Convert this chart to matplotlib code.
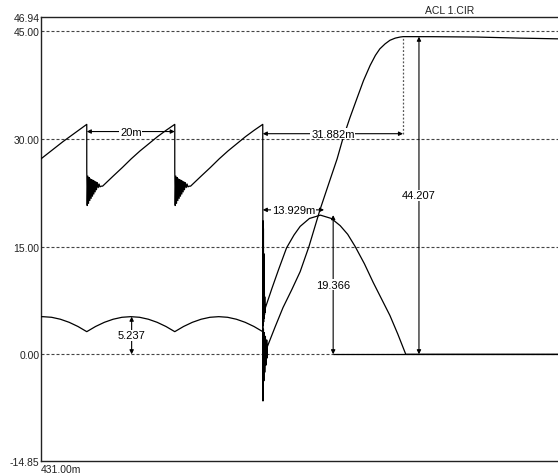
import numpy as np
import matplotlib.pyplot as plt

plt.rcParams['font.family'] = ['Liberation Sans', 'DejaVu Sans']

# axis ranges (time in ms)
t_start, t_end = 431.0, 548.5
y_min, y_max = -14.85, 46.94
y_ticks = [46.94, 45.00, 30.00, 15.00, 0.00, -14.85]
grid_levels = [45.0, 30.0, 15.0, 0.0]

# upper trace: sawtooth, switching instants
t_drops = [441.4, 461.4, 481.4]
ramp0_t = [431.0, 436.0, 441.4]
ramp0_v = [27.2, 29.6, 32.0]
# ringing after a switching, offsets from the switching instant
ring_dt = [0.0, 0.0, 0.1, 0.25, 0.4, 0.55, 0.7, 0.85, 1.0, 1.15, 1.3, 1.45,
           1.6, 1.75, 1.9, 2.05, 2.2, 2.4, 2.6, 2.8, 3.0, 3.3]
ring_v = [32.0, 25.8, 20.7, 24.8, 21.0, 24.6, 21.4, 24.4, 21.7, 24.3, 22.0, 24.2,
          22.3, 24.1, 22.6, 24.0, 22.9, 23.9, 23.2, 23.7, 23.3, 23.4]
# recharge ramp up to the next switching
ramp_dt = [3.6, 6.0, 8.1, 10.1, 12.1, 14.1, 16.1, 18.1, 20.0]
ramp_v = [23.4, 24.8, 26.0, 27.2, 28.3, 29.3, 30.3, 31.2, 32.0]
# last switching: collapse to zero, then the rise
last_ring_dt = [0.0, 0.05, 0.15, 0.25, 0.35, 0.45, 0.6, 0.75, 0.9, 1.05]
last_ring_v = [31.7, -6.5, 3.5, -3.7, 3.0, -2.5, 2.5, -1.5, 2.0, -0.5]
rise_t = [482.4, 484.2, 486.0, 488.0, 489.9, 491.9, 494.4, 496.7, 498.3, 499.6,
          501.2, 502.8, 504.3, 505.8, 507.0, 508.0, 509.2, 510.3, 511.5,
          512.6, 513.3, 520.0, 530.0, 540.0, 548.5]
rise_v = [1.0, 3.8, 6.5, 9.0, 11.5, 15.0, 20.1, 24.3, 27.2, 30.0,
          32.9, 35.6, 38.1, 40.2, 41.6, 42.5, 43.2, 43.7, 44.0,
          44.15, 44.207, 44.2, 44.15, 44.0, 43.9]

# lower trace: rectified arcs, peaks between switchings
arc_peaks = [431.4, 451.4, 471.4]
arc_dt = [-10, -8, -6, -4, -2, 0, 2, 4, 6, 8, 10]
arc_v = [3.15, 3.87, 4.45, 4.88, 5.15, 5.237, 5.15, 4.88, 4.45, 3.87, 3.15]
spike_dt = [0.05, 0.1, 0.15, 0.2, 0.25, 0.3, 0.35, 0.4, 0.45, 0.5]
spike_v = [18.6, 4.0, 17.5, 4.5, 14.0, 5.0, 11.0, 5.5, 8.0, 5.8]
pulse_t = [481.9, 483.5, 485.0, 486.8, 488.5, 489.9, 492.0, 494.5, 497.0,
           499.0, 500.7, 502.4, 504.5, 506.5, 508.4, 510.3, 512.1, 513.9, 548.5]
pulse_v = [6.3, 9.2, 11.8, 14.8, 16.6, 17.8, 18.9, 19.366, 18.9,
           17.9, 16.7, 15.0, 12.6, 10.0, 7.7, 5.4, 2.8, 0.0, 0.0]

# cursor measurements
period_t = (441.4, 461.4)
period_y, period_label = 31.0, '20m'
rise_dt_t = (481.4, 513.282)
rise_dt_y, rise_dt_label = 30.7, '31.882m'
peak_dt_t = (481.4, 495.329)
peak_dt_y, peak_dt_label = 20.1, '13.929m'
arc_amp_t, arc_amp = 451.6, 5.237
pulse_amp_t, pulse_amp = 497.4, 19.366
final_t, final_amp = 516.9, 44.207

# build the upper trace
up_t = list(ramp0_t)
up_v = list(ramp0_v)
for td in t_drops[:2]:
    up_t += [td + d for d in ring_dt] + [td + d for d in ramp_dt]
    up_v += ring_v + ramp_v
up_t += [t_drops[2] + d for d in last_ring_dt] + rise_t
up_v += last_ring_v + rise_v

# build the lower trace
lo_t, lo_v = [], []
for tp in arc_peaks:
    lo_t += [tp + d for d in arc_dt]
    lo_v += arc_v
lo_t += [t_drops[2] + d for d in spike_dt] + pulse_t
lo_v += spike_v + pulse_v

fig = plt.figure(figsize=(5.58, 4.77), dpi=100)
ax = fig.add_axes([41 / 558, 15 / 477, 517 / 558, 444 / 477])
ax.set_xlim(t_start, t_end)
ax.set_ylim(y_min, y_max)

for lv in grid_levels:
    ax.axhline(lv, color='#444444', lw=0.8, ls=(0, (2.7, 1.8)), zorder=1)

ax.plot(up_t, up_v, color='black', lw=0.9, zorder=3)
ax.plot(lo_t, lo_v, color='black', lw=0.9, zorder=3)

# zero level cursor line
ax.hlines(0, pulse_amp_t, t_end, color='black', lw=0.9, zorder=2)
# projection of the end of the rise
ax.vlines(rise_dt_t[1], rise_dt_y, final_amp, color='#555555', lw=0.9,
          ls=(0, (1.5, 1.5)), zorder=2)

arrow = dict(arrowstyle='<|-|>', color='black', lw=0.8, mutation_scale=6,
             shrinkA=0, shrinkB=0)
box = dict(facecolor='white', edgecolor='none', pad=0.6)


def hcursor(t0, t1, y, label):
    ax.annotate('', xy=(t1, y), xytext=(t0, y), arrowprops=arrow, zorder=4)
    ax.text((t0 + t1) / 2, y, label, ha='center', va='center', fontsize=8,
            bbox=box, zorder=5)


def vcursor(t, v, label):
    ax.annotate('', xy=(t, v), xytext=(t, 0), arrowprops=arrow, zorder=4)
    ax.text(t, v / 2, label, ha='center', va='center', fontsize=8,
            bbox=box, zorder=5)


hcursor(*period_t, period_y, period_label)
hcursor(*rise_dt_t, rise_dt_y, rise_dt_label)
hcursor(*peak_dt_t, peak_dt_y, peak_dt_label)
vcursor(arc_amp_t, arc_amp, '5.237')
vcursor(pulse_amp_t, pulse_amp, '19.366')
vcursor(final_t, final_amp, '44.207')

ax.set_yticks(y_ticks)
ax.set_yticklabels(['%.2f' % v for v in y_ticks])
ax.set_xticks([t_start])
ax.set_xticklabels(['431.00m'], ha='left')
ax.tick_params(length=0, labelsize=7.5, colors='#222222')
ax.tick_params(axis='y', pad=1)
ax.tick_params(axis='x', pad=2)

for side in ['left', 'top', 'bottom']:
    ax.spines[side].set_color('#222222')
    ax.spines[side].set_linewidth(1.0)
ax.spines['right'].set_visible(False)

fig.text(450 / 558, 1 - 11 / 477, 'ACL 1.CIR', ha='center', va='center',
         fontsize=7.5, color='#222222')

fig.savefig('out.png', dpi=100)
